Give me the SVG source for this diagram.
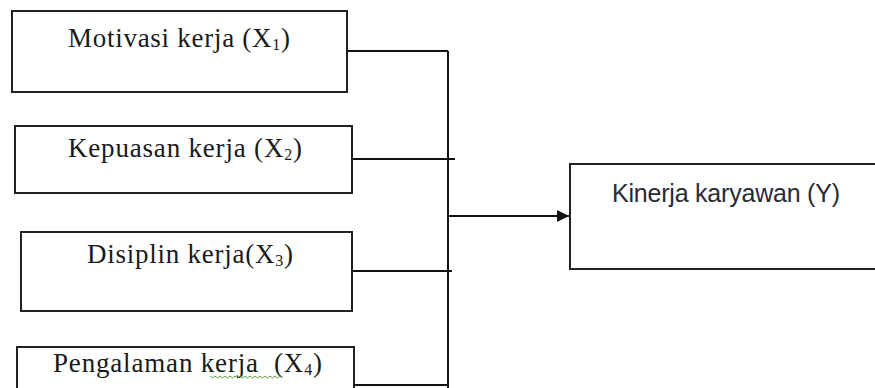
<svg xmlns="http://www.w3.org/2000/svg" width="875" height="388" viewBox="0 0 875 388">
<style>
.box{fill:#fff;stroke:#222;stroke-width:2}
.serif{font-family:"Liberation Serif","Times New Roman",serif;font-size:27px;fill:#1a1a1a;white-space:pre}
.sans{font-family:"Liberation Sans",Arial,sans-serif;font-size:25px;fill:#2a2a33}
.sub{font-size:16px}
.ln{stroke:#111;stroke-width:2;fill:none}
</style>
<defs>
<marker id="arr" viewBox="0 0 12 12" refX="12" refY="6" markerWidth="12" markerHeight="12" markerUnits="userSpaceOnUse" orient="auto">
<path d="M0,0 L12,6 L0,12 Z" fill="#111"/>
</marker>
</defs>
<rect width="875" height="388" fill="#fff"/>
<g id="x1">
<rect class="box" x="12" y="11" width="335" height="81"/>
<text class="serif" x="68" y="47" textLength="222">Motivasi kerja (X<tspan class="sub" dy="3">1</tspan><tspan dy="-3">)</tspan></text>
</g>
<g id="x2">
<rect class="box" x="15" y="126" width="337" height="67"/>
<text class="serif" x="68" y="157" textLength="234">Kepuasan kerja (X<tspan class="sub" dy="3">2</tspan><tspan dy="-3">)</tspan></text>
</g>
<g id="x3">
<rect class="box" x="21" y="232" width="331" height="79"/>
<text class="serif" x="87" y="263" textLength="206">Disiplin kerja(X<tspan class="sub" dy="3">3</tspan><tspan dy="-3">)</tspan></text>
</g>
<g id="x4">
<rect class="box" x="17" y="347" width="337" height="50"/>
<text class="serif" x="53" y="372" textLength="269">Pengalaman kerja  (X<tspan class="sub" dy="3">4</tspan><tspan dy="-3">)</tspan></text>
<path d="M210,376 l2.5,2 l2.5,-2 l2.5,2 l2.5,-2 l2.5,2 l2.5,-2 l2.5,2 l2.5,-2 l2.5,2 l2.5,-2 l2.5,2 l2.5,-2 l2.5,2 l2.5,-2 l2.5,2 l2.5,-2 l2.5,2 l2.5,-2 l2.5,2 l2.5,-2 l2.5,2 l2.5,-2 l2.5,2 l2.5,-2 l2.5,2 l2.5,-2 l2.5,2 l2.5,-2" fill="none" stroke="#5a9e3a" stroke-width="1"/>
</g>
<g id="y">
<rect class="box" x="570" y="164" width="320" height="105"/>
<text class="sans" x="612" y="202" textLength="228">Kinerja karyawan (Y)</text>
</g>
<g id="connectors">
<path class="ln" d="M347,51 H448 M448,51 V388"/>
<path class="ln" d="M352,159 H455"/>
<path class="ln" d="M352,271 H452"/>
<path class="ln" d="M354,385 H448"/>
<path class="ln" d="M448,216 H569" marker-end="url(#arr)"/>
</g>
</svg>
